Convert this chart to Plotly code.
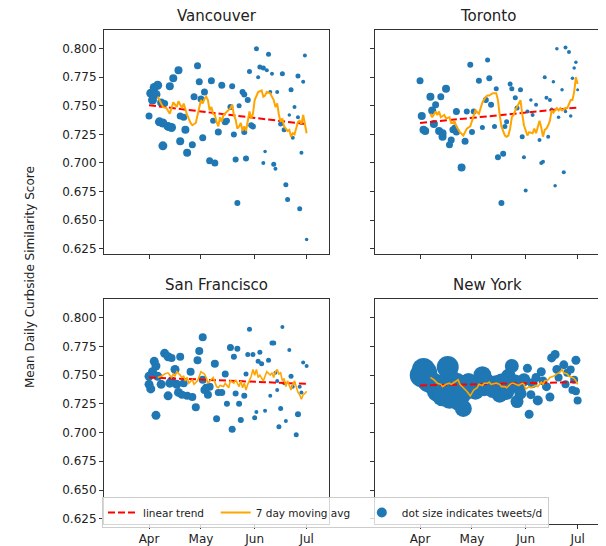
import pandas as pd
import plotly.graph_objects as go
from plotly.subplots import make_subplots

BASE = pd.Timestamp("2020-04-01")

# ---------------- data (day offsets from 1 Apr 2020) ----------------
van_day = [0,1,2,3,4,5,6,7,8,8, 9,11,12,13,14,17,18,18,20,21, 22,25,26,28,29,30,31,32,35,36,
           37,38,40,42,44,45,47,48,49,50, 51,52,54,55,55,56,57,58,59,60, 62,63,64,66,66,67,68,69,70,71,
           72,73,74,76,77,78,79,80,81,82, 83,84,86,86,87,88,88,89,90,91]
van_val = [0.741,0.761,0.755,0.766,0.760,0.768,0.736,0.753,0.715,0.735,
           0.752,0.732,0.767,0.731,0.774,0.781,0.741,0.719,0.740,0.729,
           0.709,0.716,0.758,0.785,0.771,0.756,0.722,0.762,0.702,0.772,
           0.737,0.700,0.727,0.768,0.736,0.737,0.749,0.767,0.725,0.703,
           0.665,0.750,0.762,0.760,0.727,0.704,0.755,0.780,0.733,0.732,
           0.800,0.775,0.784,0.783,0.700,0.710,0.781,0.795,0.762,0.778,
           0.699,0.695,0.762,0.734,0.778,0.729,0.681,0.668,0.742,0.764,
           0.722,0.749,0.776,0.740,0.660,0.709,0.735,0.771,0.794,0.633]
van_size = [7,9,9,9,9,9,9,8,9,9, 7,9,8,9,8,8,7,8,7,8, 8,7,7,7,7,7,7,7,7,7,
            6,7,7,7,7,6,6,6,6,6, 6,5,6,6,6,6,6,5,6,6, 5,4,5,5,4,3.5,4,5,4,4,
            5,4,4,5,5,5,5,5,3.5,5, 4,4,5,4,5,4,4,4,4,3.5]
van_ma_day = [5,8,10,12,14,16,17,19,20,21, 22,24,25,27,28,29,30,31,32,33, 34,35,36,37,38,39,40,41,42,43,
              45,47,48,49,50,51,52,53,54,55, 56,57,58,59,60,61,62,63,65,66, 67,68,70,71,72,73,74,75,76,77,
              78,80,81,82,83,84,85,86,87,88, 89,90,91]
van_ma_val = [0.758,0.749,0.748,0.743,0.753,0.749,0.754,0.748,0.752,0.746,
              0.742,0.735,0.733,0.735,0.742,0.749,0.755,0.752,0.756,0.758,
              0.755,0.746,0.749,0.743,0.742,0.736,0.732,0.740,0.736,0.742,
              0.745,0.748,0.751,0.742,0.738,0.730,0.732,0.735,0.728,0.732,
              0.728,0.735,0.745,0.739,0.743,0.755,0.758,0.762,0.7635,0.758,
              0.759,0.762,0.761,0.758,0.755,0.749,0.752,0.742,0.736,0.739,
              0.732,0.728,0.729,0.723,0.726,0.725,0.730,0.736,0.737,0.734,
              0.742,0.732,0.726]
van_trend = [0.7505, 0.734]

tor_day = [0,1,2,3,6,7,8,9,11,12, 13,13,15,17,18,19,21,21,24,26, 27,29,30,31,34,36,38,39,40,41,
           43,44,45,47,48,49,50,52,53,55, 56,58,59,60,61,62,64,65,67,69, 70,71,72,73,74,75,76,77,78,79,
           80,82,83,84,84,86,87,88,89,90, 91,20]
tor_val = [0.772,0.741,0.729,0.728,0.758,0.746,0.734,0.751,0.728,0.758,
           0.723,0.726,0.765,0.716,0.720,0.729,0.727,0.745,0.696,0.719,
           0.745,0.786,0.727,0.745,0.772,0.731,0.755,0.790,0.774,0.751,
           0.732,0.765,0.705,0.665,0.708,0.732,0.736,0.769,0.765,0.757,
           0.748,0.764,0.723,0.705,0.676,0.745,0.755,0.742,0.751,0.720,
           0.700,0.701,0.775,0.757,0.723,0.755,0.747,0.771,0.680,0.800,
           0.740,0.764,0.692,0.801,0.745,0.797,0.741,0.774,0.783,0.788,
           0.764,0.731]
tor_size = [7,8,8,8,8,8,8,7,8,7, 8,8,8,7,7,7,7,7,8,7, 6,6,6,6,6,5,6,5,6,6,
            5,5,6,6,6,5,5,5,5,5, 5,5,5,4,4,4,3.5,4,4,4, 4,4,4,4,4,4,3.5,3.5,3.5,3.5,
            3.5,3.5,4,4,3.5,4,3.5,3.5,3.5,3.5, 3,6]
tor_ma_day = [6,7,9,10,11,12,14,15,17,18, 20,21,23,25,26,27,29,30,31,32, 34,35,36,38,39,40,42,44,45,46,
              47,49,50,51,52,53,54,55,57,58, 59,60,62,63,65,66,67,68,69,70, 71,72,73,74,75,76,77,79,80,81,
              82,84,85,87,88,89,90,91]
tor_ma_val = [0.743,0.740,0.745,0.742,0.745,0.740,0.742,0.739,0.740,0.735,
              0.736,0.732,0.727,0.724,0.727,0.730,0.732,0.737,0.742,0.746,
              0.743,0.748,0.753,0.758,0.759,0.759,0.761,0.761,0.755,0.742,
              0.732,0.724,0.723,0.724,0.730,0.740,0.742,0.746,0.752,0.755,
              0.743,0.733,0.724,0.727,0.726,0.730,0.726,0.732,0.737,0.731,
              0.723,0.729,0.730,0.733,0.737,0.746,0.744,0.748,0.746,0.748,
              0.746,0.748,0.748,0.755,0.755,0.762,0.775,0.769]
tor_trend = [0.735, 0.7485]

sf_day = [0,1,2,3,4,5,4,7,9,11, 11,13,13,15,16,17,18,20,22,24, 25,27,28,29,31,31,33,35,38,39,
          40,42,44,45,47,48,49,50,51,52, 53,56,55,57,58,60,61,62,63,64, 65,67,69,70,71,72,74,75,76,77,
          78,79,81,82,83,85,86,89,91,88, 0,12,19,32,34,73,74,87]
sf_val = [0.742,0.738,0.753,0.762,0.758,0.749,0.715,0.742,0.769,0.732,
          0.766,0.765,0.745,0.755,0.742,0.735,0.766,0.743,0.732,0.753,
          0.731,0.722,0.763,0.771,0.783,0.746,0.739,0.740,0.760,0.712,
          0.735,0.735,0.751,0.725,0.774,0.703,0.766,0.734,0.773,0.725,
          0.711,0.751,0.732,0.768,0.790,0.768,0.713,0.718,0.762,0.770,
          0.760,0.719,0.763,0.732,0.778,0.778,0.745,0.705,0.721,0.792,
          0.743,0.710,0.772,0.749,0.740,0.698,0.716,0.761,0.758,0.735,
          0.749,0.743,0.733,0.737,0.733,0.752,0.737,0.740]
sf_size = [9,9,9,9,9,9,9,9,9,9, 9,8,9,9,9,9,8,8,8,8, 8,8,8,8,8,8,8,8,8,7,
           7,7,7,6,7,7,6,6,6,6, 6,5,6,5,5,5,5,4,5,5, 5,4,5,4,5,5,4,5,5,4,
           4,4,4,5,4,5,6,4,4,4, 9,9,8,8,8,4,4,4]
sf_ma_day = [5,7,9,11,13,14,15,16,18,19, 20,21,22,23,25,26,28,29,30,32, 33,34,36,37,39,40,41,43,44,46,
             47,49,50,52,53,54,55,56,57,59, 60,61,62,63,64,66,67,68,70,71, 72,73,74,75,76,77,78,79,80,81,
             82,83,84,85,86,87,88,89,90,91]
sf_ma_val = [0.748,0.749,0.751,0.752,0.748,0.751,0.749,0.753,0.750,0.748,
             0.749,0.745,0.748,0.743,0.746,0.742,0.745,0.750,0.753,0.751,
             0.748,0.743,0.746,0.748,0.740,0.739,0.741,0.740,0.743,0.739,
             0.745,0.743,0.746,0.740,0.745,0.739,0.743,0.737,0.742,0.749,
             0.755,0.750,0.755,0.748,0.750,0.745,0.749,0.753,0.750,0.752,
             0.748,0.753,0.755,0.751,0.752,0.745,0.747,0.740,0.745,0.740,
             0.737,0.742,0.745,0.740,0.735,0.733,0.729,0.733,0.734,0.736]
sf_trend = [0.748, 0.7424]

ny_day = [1,2,5,8,10,13,16,17,17,21, 22,25,27,30,32,36,37,40,44,46, 48,51,53,54,56,57,60,62,63,64,
          65,67,68,70,71,73,75,76,78,79, 80,83,84,85,87,88,89,90,90,91,
          19,24,28,34,38,42,47,50,55,58, 3,12]
ny_val = [0.750,0.755,0.745,0.742,0.736,0.732,0.757,0.746,0.729,0.743,
          0.727,0.721,0.737,0.742,0.736,0.750,0.739,0.742,0.743,0.733,
          0.740,0.749,0.758,0.742,0.727,0.739,0.746,0.756,0.716,0.733,
          0.743,0.748,0.728,0.753,0.745,0.740,0.731,0.765,0.768,0.755,
          0.748,0.759,0.742,0.752,0.755,0.737,0.746,0.736,0.763,0.728,
          0.738,0.733,0.744,0.741,0.745,0.737,0.745,0.735,0.745,0.734,
          0.752,0.740]
ny_size = [24,23,23,22,21,21,22,22,19,21, 18,17,19,18,17,18,17,17,16,16,
           15,15,14,15,13,13,13,9,9,9, 10,9,10,9,9,9,9,9,9,9, 8,9,8,8,8,8,8,8,9,8,
           19,19,18,17,17,16,15,15,13,12, 24,21]
ny_ma_day = [6,8,10,12,13,15,17,18,20,22, 23,25,27,29,30,31,33,34,36,37, 39,40,41,43,44,46,47,49,50,52,
             53,54,56,57,59,60,61,63,64,66, 67,68,70,71,72,74,75,77,78,79, 81,82,83,85,86,88,89,90,91]
ny_ma_val = [0.748,0.746,0.743,0.742,0.740,0.742,0.743,0.742,0.744,0.746,
             0.742,0.739,0.736,0.732,0.735,0.737,0.739,0.742,0.741,0.743,
             0.743,0.744,0.742,0.743,0.743,0.742,0.740,0.740,0.739,0.742,
             0.743,0.743,0.742,0.741,0.743,0.742,0.738,0.740,0.739,0.740,
             0.741,0.740,0.744,0.742,0.745,0.746,0.748,0.749,0.750,0.751,
             0.753,0.755,0.752,0.751,0.749,0.748,0.747,0.745,0.742]
ny_trend = [0.741, 0.744]

trend_day = [0, 91]
month_ticks = ["2020-04-01", "2020-05-01", "2020-06-01", "2020-07-01"]
month_labels = ["Apr", "May", "Jun", "Jul"]
y_ticks = [0.625, 0.650, 0.675, 0.700, 0.725, 0.750, 0.775, 0.800]

# ---------------- figure ----------------
FONT = "DejaVu Sans"
DOT = "#1f77b4"
OFF = 8            # page body margin of the html page
W, H = 598, 538    # figure size so that it fills the 606x546 window


def px(xp):
    return (xp - OFF) / W


def py(yp):
    return 1 - (yp - OFF) / H


def to_dates(days):
    return BASE + pd.to_timedelta(days, unit="D")


fig = make_subplots(rows=2, cols=2)
panels = [
    ("Vancouver", van_day, van_val, van_size, van_ma_day, van_ma_val, van_trend, 1, 1, 2.0),
    ("Toronto", tor_day, tor_val, tor_size, tor_ma_day, tor_ma_val, tor_trend, 1, 2, 2.0),
    ("San Francisco", sf_day, sf_val, sf_size, sf_ma_day, sf_ma_val, sf_trend, 2, 1, 1.6),
    ("New York", ny_day, ny_val, ny_size, ny_ma_day, ny_ma_val, ny_trend, 2, 2, 1.6),
]

for i, (name, d, v, s, md, mv, tr, r, c, lw) in enumerate(panels):
    fig.add_trace(go.Scatter(x=to_dates(d), y=v, mode="markers",
                             marker=dict(color=DOT, size=s, line=dict(width=0), opacity=1),
                             showlegend=False, hoverinfo="skip"), row=r, col=c)
    fig.add_trace(go.Scatter(x=to_dates(trend_day), y=tr, mode="lines",
                             line=dict(color="#ff0000", width=2, dash="7px,3px"),
                             name="linear trend\u00a0\u00a0", showlegend=(i == 0)), row=r, col=c)
    fig.add_trace(go.Scatter(x=to_dates(md), y=mv, mode="lines",
                             line=dict(color="#ffa500", width=lw),
                             name="7 day moving avg\u00a0\u00a0", showlegend=(i == 0)), row=r, col=c)

# legend key for the dots
fig.add_trace(go.Scatter(x=[None], y=[None], mode="markers",
                         marker=dict(color=DOT, size=10),
                         name="dot size indicates tweets/d", showlegend=True), row=2, col=1)

xdom = {1: [px(104), px(329)], 2: [px(375), px(600)]}
ydom = {1: [py(254), py(30)], 2: [py(524), py(299)]}
xrange_ = ["2020-03-06", "2020-07-13 22:00"]
yrange_ = [0.6204, 0.8163]

axis_style = dict(showline=True, mirror=True, linecolor="#333333", linewidth=1,
                  ticks="outside", ticklen=4, tickwidth=1, tickcolor="#333333",
                  showgrid=False, zeroline=False,
                  tickfont=dict(family=FONT, size=12, color="#222222"))

for r in (1, 2):
    for c in (1, 2):
        fig.update_xaxes(domain=xdom[c], range=xrange_, tickvals=month_ticks, ticktext=month_labels,
                         showticklabels=(r == 2), row=r, col=c, **axis_style)
        fig.update_yaxes(domain=ydom[r], range=yrange_, tickvals=y_ticks,
                         ticktext=[f"{t:.3f}" for t in y_ticks],
                         showticklabels=(c == 1), row=r, col=c, **axis_style)

annotations = []
for name, *_rest in panels:
    r, c = _rest[6], _rest[7]
    annotations.append(dict(text=name, x=sum(xdom[c]) / 2, y=ydom[r][1], xref="paper", yref="paper",
                            xanchor="center", yanchor="bottom", yshift=3, showarrow=False,
                            font=dict(family=FONT, size=15, color="#222222")))
annotations.append(dict(text="Mean Daily Curbside Similarity Score", x=px(30), y=py(277),
                        xref="paper", yref="paper", xanchor="center", yanchor="middle",
                        textangle=-90, showarrow=False,
                        font=dict(family=FONT, size=12, color="#222222")))

fig.update_layout(
    width=W, height=H,
    margin=dict(l=0, r=0, t=0, b=0, autoexpand=False),
    paper_bgcolor="white", plot_bgcolor="white",
    annotations=annotations,
    legend=dict(orientation="h", x=px(102), y=py(497), xanchor="left", yanchor="top",
                bgcolor="rgba(255,255,255,0.8)", bordercolor="#cccccc", borderwidth=1,
                font=dict(family=FONT, size=10.5, color="#222222"), traceorder="normal"),
)

fig.write_html("out.html")
